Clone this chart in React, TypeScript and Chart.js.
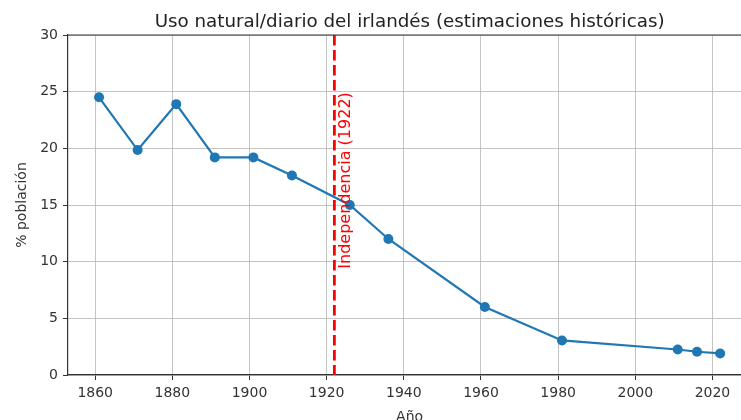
import React, { useEffect, useRef } from "react";
import { Chart, registerables } from "chart.js";

Chart.register(...registerables);

// ---- data ----
const years = [1861, 1871, 1881, 1891, 1901, 1911, 1926, 1936, 1961, 1981, 2011, 2016, 2022];
const pct = [24.5, 19.85, 23.9, 19.2, 19.2, 17.6, 15.0, 12.0, 6.0, 3.05, 2.25, 2.05, 1.9];
const xTicks = [1860, 1880, 1900, 1920, 1940, 1960, 1980, 2000, 2020];
const yTicks = [0, 5, 10, 15, 20, 25, 30];
const independenceYear = 1922;
const independenceLabel = "Independencia (1922)";
const chartTitle = "Uso natural/diario del irlandés (estimaciones históricas)";
const xLabel = "Año";
const yLabel = "% población";

const FONT = "'DejaVu Sans', sans-serif";
const X_MIN = 1852.95;
const X_MAX = 2027.4;
const X_FULL_MAX = 2030.05; // full matplotlib axis extent (cropped in image)

const decorPlugin = {
  id: "decor",
  afterDatasetsDraw(chart: any) {
    const { ctx, chartArea, scales } = chart;
    const xs = scales.x;
    const ys = scales.y;
    // independence line
    const lx = xs.getPixelForValue(independenceYear);
    ctx.save();
    ctx.beginPath();
    ctx.rect(chartArea.left, chartArea.top, chartArea.right - chartArea.left, chartArea.bottom - chartArea.top);
    ctx.clip();
    ctx.strokeStyle = "#ff0000";
    ctx.lineWidth = 2.8;
    ctx.setLineDash([10.5, 4.5]);
    ctx.beginPath();
    ctx.moveTo(lx, chartArea.top);
    ctx.lineTo(lx, chartArea.bottom);
    ctx.stroke();
    ctx.restore();

    // annotation text
    ctx.save();
    const tx = xs.getPixelForValue(independenceYear + 1) - 0.5;
    const ty = ys.getPixelForValue(10) + 7;
    ctx.translate(tx, ty);
    ctx.rotate(-Math.PI / 2);
    ctx.fillStyle = "#ff0000";
    ctx.font = `16px ${FONT}`;
    ctx.textAlign = "left";
    ctx.textBaseline = "top";
    ctx.fillText(independenceLabel, 0, 0);
    ctx.restore();
  },
  afterDraw(chart: any) {
    const { ctx, chartArea, scales } = chart;
    const xs = scales.x;
    ctx.save();
    // top spine
    ctx.strokeStyle = "#333";
    ctx.lineWidth = 1.2;
    ctx.beginPath();
    ctx.moveTo(chartArea.left, chartArea.top);
    ctx.lineTo(chartArea.right, chartArea.top);
    ctx.stroke();

    const cx = (chartArea.left + xs.getPixelForValue(X_FULL_MAX)) / 2;
    // title
    ctx.fillStyle = "#222";
    ctx.font = `18.3px ${FONT}`;
    ctx.textAlign = "center";
    ctx.textBaseline = "alphabetic";
    ctx.fillText(chartTitle, cx, 26.5);

    // x label
    ctx.font = `14px ${FONT}`;
    ctx.fillStyle = "#333";
    ctx.fillText(xLabel, cx, 421);

    // y label
    const cy = (chartArea.top + chartArea.bottom) / 2;
    ctx.translate(26, cy);
    ctx.rotate(-Math.PI / 2);
    ctx.fillText(yLabel, 0, 0);
    ctx.restore();
  },
};

export default function App() {
  const ref = useRef<HTMLCanvasElement | null>(null);
  useEffect(() => {
    document.body.style.margin = "0";
    const canvas = ref.current;
    if (!canvas) return;
    const gridColor = "rgba(176,176,176,0.75)";
    const chart = new Chart(canvas, {
      type: "line",
      data: {
        datasets: [
          {
            data: years.map((x, i) => ({ x, y: pct[i] })),
            borderColor: "#1f77b4",
            backgroundColor: "#1f77b4",
            borderWidth: 2.2,
            pointRadius: 5,
            pointHoverRadius: 5,
            pointBorderWidth: 0,
            tension: 0,
            clip: false as any,
          },
        ],
      },
      options: {
        animation: false,
        responsive: false,
        devicePixelRatio: 1,
        layout: { autoPadding: false, padding: { top: 35, left: 0, right: 0, bottom: 0 } },
        plugins: {
          legend: { display: false },
          title: { display: false },
          tooltip: { enabled: false },
        },
        scales: {
          x: {
            type: "linear",
            min: X_MIN,
            max: X_MAX,
            afterBuildTicks: (s: any) => {
              s.ticks = xTicks.map((v) => ({ value: v }));
            },
            afterFit: (s: any) => {
              s.height = 45;
              s.paddingLeft = 0;
              s.paddingRight = 0;
            },
            grid: { color: gridColor, lineWidth: 1, tickLength: 5, tickColor: "#333", drawTicks: true },
            border: { color: "#333", width: 1.2 },
            ticks: {
              font: { family: FONT, size: 14 },
              color: "#333",
              padding: 5,
              maxRotation: 0,
              autoSkip: false,
              callback: (v: any) => String(v),
            },
          },
          y: {
            type: "linear",
            min: 0,
            max: 30,
            afterBuildTicks: (s: any) => {
              s.ticks = yTicks.map((v) => ({ value: v }));
            },
            afterFit: (s: any) => {
              s.width = 68;
              s.paddingTop = 0;
              s.paddingBottom = 0;
            },
            grid: { color: gridColor, lineWidth: 1, tickLength: 5, tickColor: "#333", drawTicks: true },
            border: { color: "#333", width: 1.2 },
            ticks: {
              font: { family: FONT, size: 14 },
              color: "#333",
              padding: 5,
              autoSkip: false,
              callback: (v: any) => String(v),
            },
          },
        },
      },
      plugins: [decorPlugin],
    });
    return () => chart.destroy();
  }, []);
  return (
    <div style={{ position: "absolute", left: 0, top: 0, width: 741, height: 420, background: "#fff" }}>
      <canvas ref={ref} width={741} height={420} style={{ display: "block", width: 741, height: 420 }} />
    </div>
  );
}
